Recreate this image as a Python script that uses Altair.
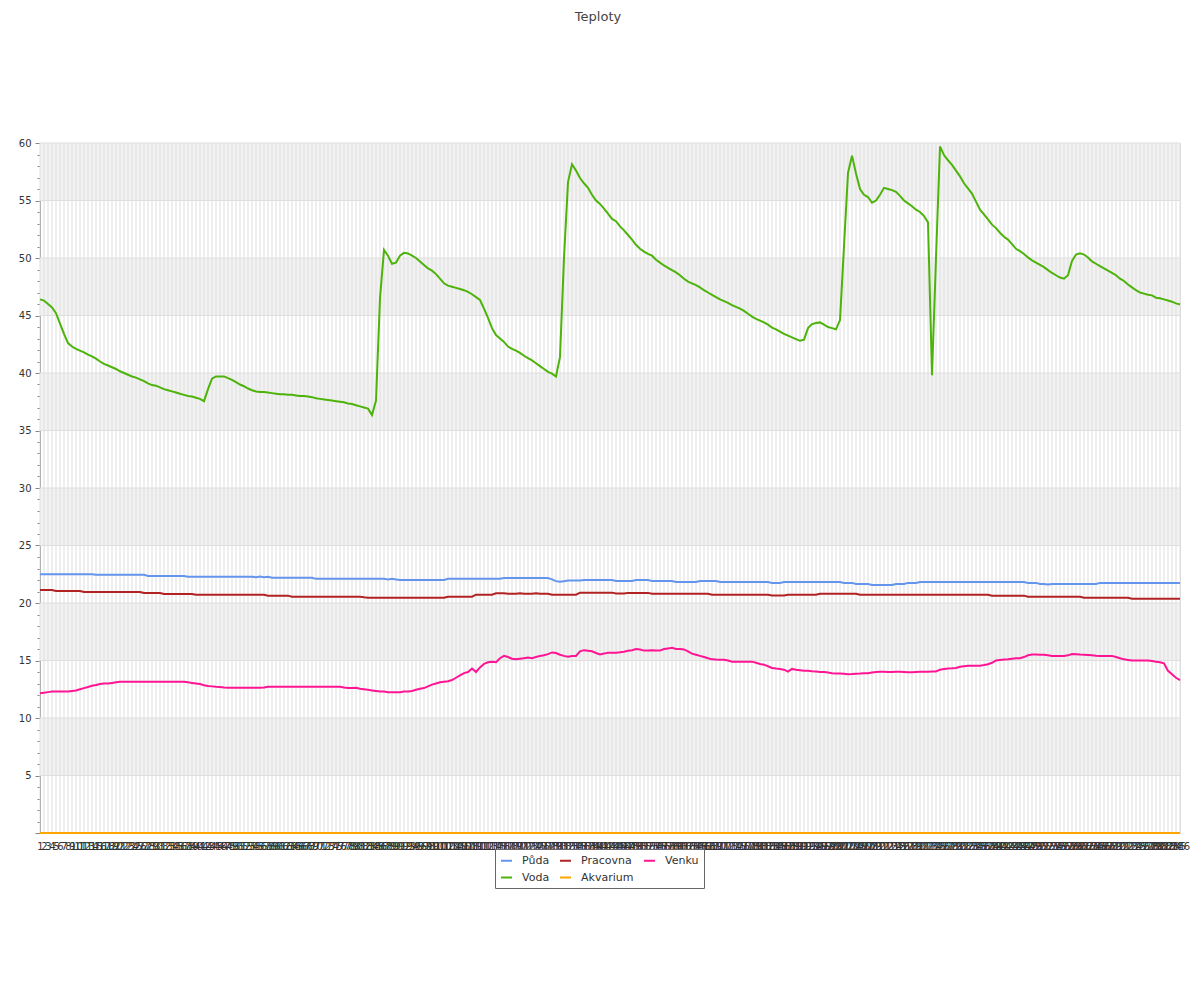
import altair as alt
import pandas as pd

# ---------------- data ----------------
CATEGORIES = list(range(1, 287))
SERIES = ["Půda", "Pracovna", "Venku", "Voda", "Akvarium"]
COLORS = ["#6495ED", "#B22222", "#FF1493", "#4DB30B", "#FFA500"]

PUDA = [
    22.5, 22.5, 22.5, 22.5, 22.5, 22.5, 22.5, 22.5, 22.5, 22.5,
    22.5, 22.5, 22.5, 22.5, 22.45, 22.45, 22.45, 22.45, 22.45, 22.45,
    22.45, 22.45, 22.45, 22.45, 22.45, 22.45, 22.45, 22.35, 22.35, 22.35,
    22.35, 22.35, 22.35, 22.35, 22.35, 22.35, 22.35, 22.28, 22.28, 22.28,
    22.28, 22.28, 22.28, 22.28, 22.28, 22.28, 22.28, 22.28, 22.28, 22.28,
    22.28, 22.28, 22.28, 22.28, 22.25, 22.3, 22.25, 22.28, 22.2, 22.2,
    22.2, 22.2, 22.2, 22.2, 22.2, 22.2, 22.2, 22.2, 22.2, 22.1,
    22.1, 22.1, 22.1, 22.1, 22.1, 22.1, 22.1, 22.1, 22.1, 22.1,
    22.1, 22.1, 22.1, 22.1, 22.1, 22.1, 22.1, 22.05, 22.1, 22.05,
    22.0, 22.0, 22.0, 22.0, 22.0, 22.0, 22.0, 22.0, 22.0, 22.0,
    22.0, 22.0, 22.1, 22.1, 22.1, 22.1, 22.1, 22.1, 22.1, 22.1,
    22.1, 22.1, 22.1, 22.1, 22.1, 22.1, 22.17, 22.17, 22.17, 22.17,
    22.17, 22.17, 22.17, 22.17, 22.17, 22.17, 22.17, 22.17, 22.05, 21.9,
    21.85, 21.9, 21.95, 21.95, 21.95, 21.95, 22.0, 22.0, 22.0, 22.0,
    22.0, 22.0, 22.0, 22.0, 21.92, 21.92, 21.92, 21.92, 21.92, 22.0,
    22.0, 22.0, 22.0, 21.92, 21.92, 21.92, 21.92, 21.92, 21.92, 21.83,
    21.83, 21.83, 21.83, 21.83, 21.83, 21.92, 21.92, 21.92, 21.92, 21.92,
    21.83, 21.83, 21.83, 21.83, 21.83, 21.83, 21.83, 21.83, 21.83, 21.83,
    21.83, 21.83, 21.83, 21.75, 21.75, 21.75, 21.83, 21.83, 21.83, 21.83,
    21.83, 21.83, 21.83, 21.83, 21.83, 21.83, 21.83, 21.83, 21.83, 21.83,
    21.83, 21.75, 21.75, 21.75, 21.66, 21.66, 21.66, 21.66, 21.57, 21.57,
    21.57, 21.57, 21.57, 21.57, 21.66, 21.66, 21.66, 21.75, 21.75, 21.75,
    21.83, 21.83, 21.83, 21.83, 21.83, 21.83, 21.83, 21.83, 21.83, 21.83,
    21.83, 21.83, 21.83, 21.83, 21.83, 21.83, 21.83, 21.83, 21.83, 21.83,
    21.83, 21.83, 21.83, 21.83, 21.83, 21.83, 21.83, 21.75, 21.75, 21.75,
    21.66, 21.66, 21.6, 21.66, 21.66, 21.66, 21.66, 21.66, 21.66, 21.66,
    21.66, 21.66, 21.66, 21.66, 21.66, 21.75, 21.75, 21.75, 21.75, 21.75,
    21.75, 21.75, 21.75, 21.75, 21.75, 21.75, 21.75, 21.75, 21.75, 21.75,
    21.75, 21.75, 21.75, 21.75, 21.75, 21.75,
]

PRACOVNA = [
    21.13, 21.13, 21.13, 21.13, 21.04, 21.04, 21.04, 21.04, 21.04, 21.04,
    21.04, 20.96, 20.96, 20.96, 20.96, 20.96, 20.96, 20.96, 20.96, 20.96,
    20.96, 20.96, 20.96, 20.96, 20.96, 20.96, 20.87, 20.87, 20.87, 20.87,
    20.87, 20.78, 20.78, 20.78, 20.78, 20.78, 20.78, 20.78, 20.78, 20.72,
    20.72, 20.72, 20.72, 20.72, 20.72, 20.72, 20.72, 20.72, 20.72, 20.72,
    20.72, 20.72, 20.72, 20.72, 20.72, 20.72, 20.72, 20.64, 20.64, 20.64,
    20.64, 20.64, 20.64, 20.55, 20.55, 20.55, 20.55, 20.55, 20.55, 20.55,
    20.55, 20.55, 20.55, 20.55, 20.55, 20.55, 20.55, 20.55, 20.55, 20.55,
    20.55, 20.5, 20.46, 20.46, 20.46, 20.46, 20.46, 20.46, 20.46, 20.46,
    20.46, 20.46, 20.46, 20.46, 20.46, 20.46, 20.46, 20.46, 20.46, 20.46,
    20.46, 20.46, 20.55, 20.55, 20.55, 20.55, 20.55, 20.55, 20.55, 20.72,
    20.72, 20.72, 20.72, 20.72, 20.85, 20.85, 20.85, 20.8, 20.8, 20.8,
    20.85, 20.8, 20.8, 20.8, 20.85, 20.8, 20.8, 20.8, 20.72, 20.72,
    20.72, 20.72, 20.72, 20.72, 20.72, 20.9, 20.9, 20.9, 20.9, 20.9,
    20.9, 20.9, 20.9, 20.9, 20.82, 20.82, 20.82, 20.88, 20.88, 20.88,
    20.88, 20.88, 20.88, 20.8, 20.8, 20.8, 20.8, 20.8, 20.8, 20.8,
    20.8, 20.8, 20.8, 20.8, 20.8, 20.8, 20.8, 20.8, 20.72, 20.72,
    20.72, 20.72, 20.72, 20.72, 20.72, 20.72, 20.72, 20.72, 20.72, 20.72,
    20.72, 20.72, 20.72, 20.66, 20.66, 20.66, 20.66, 20.72, 20.72, 20.72,
    20.72, 20.72, 20.72, 20.72, 20.72, 20.8, 20.8, 20.8, 20.8, 20.8,
    20.8, 20.8, 20.8, 20.8, 20.8, 20.72, 20.72, 20.72, 20.72, 20.72,
    20.72, 20.72, 20.72, 20.72, 20.72, 20.72, 20.72, 20.72, 20.72, 20.72,
    20.72, 20.72, 20.72, 20.72, 20.72, 20.72, 20.72, 20.72, 20.72, 20.72,
    20.72, 20.72, 20.72, 20.72, 20.72, 20.72, 20.72, 20.72, 20.64, 20.64,
    20.64, 20.64, 20.64, 20.64, 20.64, 20.64, 20.64, 20.55, 20.55, 20.55,
    20.55, 20.55, 20.55, 20.55, 20.55, 20.55, 20.55, 20.55, 20.55, 20.55,
    20.55, 20.46, 20.46, 20.46, 20.46, 20.46, 20.46, 20.46, 20.46, 20.46,
    20.46, 20.46, 20.46, 20.38, 20.38, 20.38, 20.38, 20.38, 20.38, 20.38,
    20.38, 20.38, 20.38, 20.38, 20.38, 20.38,
]

VENKU = [
    12.15, 12.2, 12.25, 12.3, 12.3, 12.3, 12.3, 12.3, 12.35, 12.4,
    12.5, 12.6, 12.7, 12.8, 12.87, 12.95, 13.0, 13.0, 13.05, 13.1,
    13.15, 13.15, 13.15, 13.15, 13.15, 13.15, 13.15, 13.15, 13.15, 13.15,
    13.15, 13.15, 13.15, 13.15, 13.15, 13.15, 13.15, 13.1, 13.05, 13.0,
    12.95, 12.85, 12.78, 12.75, 12.72, 12.7, 12.66, 12.64, 12.62, 12.62,
    12.64, 12.64, 12.64, 12.64, 12.64, 12.64, 12.66, 12.72, 12.72, 12.72,
    12.72, 12.72, 12.72, 12.72, 12.72, 12.72, 12.72, 12.72, 12.72, 12.72,
    12.72, 12.72, 12.72, 12.72, 12.72, 12.72, 12.65, 12.6, 12.6, 12.62,
    12.55, 12.5, 12.45, 12.4, 12.35, 12.3, 12.3, 12.25, 12.25, 12.25,
    12.25, 12.3, 12.3, 12.35, 12.45, 12.55, 12.6, 12.75, 12.9, 13.0,
    13.1, 13.15, 13.2, 13.3, 13.5, 13.7, 13.9, 14.0, 14.3, 14.0,
    14.4, 14.7, 14.85, 14.9, 14.85, 15.2, 15.4, 15.3, 15.15, 15.1,
    15.15, 15.2, 15.25, 15.2, 15.3, 15.4, 15.45, 15.55, 15.7, 15.65,
    15.5, 15.4, 15.33, 15.4, 15.4, 15.8, 15.9, 15.85, 15.8, 15.65,
    15.53, 15.6, 15.68, 15.68, 15.68, 15.72, 15.77, 15.85, 15.9, 16.0,
    15.95, 15.86, 15.88, 15.9, 15.86, 15.86, 16.0, 16.05, 16.1, 16.0,
    16.0, 15.96, 15.8, 15.6, 15.5, 15.4, 15.3, 15.2, 15.1, 15.08,
    15.07, 15.07, 15.0, 14.9, 14.9, 14.9, 14.9, 14.9, 14.9, 14.8,
    14.7, 14.64, 14.5, 14.35, 14.3, 14.27, 14.2, 14.03, 14.27, 14.2,
    14.15, 14.1, 14.1, 14.07, 14.05, 14.0, 14.0, 13.95, 13.9, 13.88,
    13.86, 13.84, 13.8, 13.82, 13.85, 13.87, 13.9, 13.9, 13.95, 14.0,
    14.03, 14.02, 14.0, 14.0, 14.03, 14.02, 14.0, 13.98, 13.97, 14.0,
    14.02, 14.03, 14.03, 14.04, 14.05, 14.2, 14.27, 14.3, 14.32, 14.35,
    14.45, 14.5, 14.55, 14.55, 14.55, 14.55, 14.6, 14.67, 14.8, 15.0,
    15.05, 15.08, 15.1, 15.15, 15.2, 15.2, 15.3, 15.45, 15.53, 15.52,
    15.5, 15.5, 15.45, 15.4, 15.4, 15.4, 15.4, 15.45, 15.57, 15.55,
    15.52, 15.5, 15.48, 15.45, 15.42, 15.4, 15.4, 15.4, 15.4, 15.3,
    15.2, 15.1, 15.05, 15.0, 15.0, 15.0, 15.0, 15.0, 14.95, 14.9,
    14.85, 14.75, 14.1, 13.8, 13.5, 13.3,
]

VODA = [
    46.4, 46.3, 46.0, 45.7, 45.2, 44.3, 43.4, 42.6, 42.3, 42.1,
    41.95, 41.8, 41.6, 41.45, 41.25, 41.0, 40.8, 40.65, 40.5, 40.35,
    40.15, 40.0, 39.85, 39.7, 39.6, 39.45, 39.3, 39.1, 38.95, 38.9,
    38.75, 38.6, 38.5, 38.4, 38.3, 38.2, 38.1, 38.0, 37.95, 37.85,
    37.75, 37.55, 38.6, 39.5, 39.7, 39.7, 39.7, 39.55, 39.4, 39.2,
    39.0, 38.85, 38.65, 38.5, 38.4, 38.35, 38.35, 38.3, 38.25, 38.2,
    38.15, 38.15, 38.1, 38.1, 38.05, 38.0, 38.0, 37.95, 37.9, 37.8,
    37.75, 37.7, 37.65, 37.6, 37.55, 37.5, 37.45, 37.35, 37.3, 37.2,
    37.1, 37.0, 36.9, 36.35, 37.6, 46.5, 50.7, 50.2, 49.5, 49.6,
    50.2, 50.45, 50.4, 50.2, 50.0, 49.7, 49.4, 49.1, 48.9, 48.6,
    48.2, 47.8, 47.6, 47.5, 47.4, 47.3, 47.2, 47.05, 46.85, 46.6,
    46.35, 45.6, 44.8, 43.9, 43.3, 43.0, 42.7, 42.3, 42.1, 41.95,
    41.75, 41.5, 41.3, 41.1, 40.85, 40.6, 40.35, 40.1, 39.95, 39.7,
    41.4, 50.0, 56.6, 58.15, 57.6, 56.95, 56.5, 56.1, 55.5, 55.0,
    54.7, 54.3, 53.85, 53.4, 53.2, 52.75, 52.4, 52.0, 51.6, 51.15,
    50.8, 50.55, 50.35, 50.2, 49.85, 49.6, 49.35, 49.15, 48.95, 48.75,
    48.5, 48.2, 47.95, 47.8, 47.65, 47.45, 47.2, 47.0, 46.8, 46.6,
    46.4, 46.25, 46.1, 45.9, 45.75, 45.6, 45.4, 45.15, 44.9, 44.7,
    44.55, 44.4, 44.2, 43.95, 43.8, 43.6, 43.4, 43.25, 43.1, 42.95,
    42.8, 42.9, 43.9, 44.25, 44.35, 44.4, 44.2, 44.0, 43.9, 43.8,
    44.6, 51.0, 57.4, 58.9, 57.35, 56.0, 55.5, 55.3, 54.8, 55.0,
    55.5, 56.1, 56.0, 55.9, 55.75, 55.4, 55.0, 54.75, 54.5, 54.2,
    54.0, 53.65, 53.1, 39.8, 50.0, 59.7, 58.95, 58.5, 58.1, 57.6,
    57.1, 56.5, 56.05, 55.6, 54.9, 54.2, 53.8, 53.35, 52.9, 52.6,
    52.2, 51.85, 51.6, 51.2, 50.8, 50.6, 50.35, 50.05, 49.8, 49.6,
    49.4, 49.2, 48.95, 48.7, 48.5, 48.3, 48.2, 48.5, 49.75, 50.3,
    50.4, 50.3, 50.05, 49.7, 49.5, 49.3, 49.1, 48.9, 48.7, 48.5,
    48.2, 48.0, 47.7, 47.45, 47.2, 47.0, 46.9, 46.8, 46.75, 46.55,
    46.5, 46.4, 46.3, 46.2, 46.05, 45.95,
]

AKVARIUM = [0.0] * 286

BAND_START = [5, 15, 25, 35, 45, 55]
BAND_END = [10, 20, 30, 40, 50, 60]
GRID_Y = [5, 10, 15, 20, 25, 30, 35, 40, 45, 50, 55, 60]
Y_TICKS = list(range(0, 61))

# ---------------- tables ----------------
series_values = {
    "Půda": PUDA,
    "Voda": VODA,
    "Pracovna": PRACOVNA,
    "Akvarium": AKVARIUM,
    "Venku": VENKU,
}
rows = []
for name, vals in series_values.items():
    for cat, v in zip(CATEGORIES, vals):
        rows.append({"idx": cat, "series": name, "value": v})
df = pd.DataFrame(rows)
cats_df = pd.DataFrame({"idx": CATEGORIES})
bands_df = pd.DataFrame({"start": BAND_START, "end": BAND_END})
grid_df = pd.DataFrame({"g": GRID_Y})

FONT = "DejaVu Sans"
Y_SCALE = alt.Scale(domain=[0, 60], nice=False, zero=True)
X_SCALE = alt.Scale(type="point", padding=0)

X_AXIS = alt.Axis(
    title=None, labelAngle=0, labelOverlap=False, ticks=False, domain=False,
    grid=False, labelPadding=8, labelFontSize=10, labelFont=FONT,
    labelColor="#333333",
)
Y_AXIS = alt.Axis(
    title=None, values=Y_TICKS, grid=False, labelOverlap=False,
    labelExpr="datum.value % 5 === 0 && datum.value > 0 ? datum.label : ''",
    tickSize={"condition": {"test": "datum.value % 5 === 0", "value": 5}, "value": 3},
    labelPadding=4, labelFontSize=10, labelFont=FONT, labelColor="#333333",
    domainColor="#888888", tickColor="#888888",
)

bands = alt.Chart(bands_df).mark_rect(color="#f2f2f2").encode(
    y=alt.Y("start:Q", scale=Y_SCALE, axis=Y_AXIS),
    y2="end:Q",
    x=alt.value(0),
    x2=alt.value("width"),
)

hgrid = alt.Chart(grid_df).mark_rule(color="#dedede", strokeWidth=1).encode(
    y=alt.Y("g:Q", scale=Y_SCALE, axis=Y_AXIS),
)

vgrid = alt.Chart(cats_df).mark_rule(color="#dedede", strokeWidth=1).encode(
    x=alt.X("idx:O", scale=X_SCALE, axis=X_AXIS),
)

lines = alt.Chart(df).mark_line(strokeWidth=2).encode(
    x=alt.X("idx:O", scale=X_SCALE, axis=X_AXIS),
    y=alt.Y("value:Q", scale=Y_SCALE, axis=Y_AXIS),
    color=alt.Color(
        "series:N",
        scale=alt.Scale(domain=SERIES, range=COLORS),
        legend=alt.Legend(
            title=None, orient="none", legendX=455, legendY=706,
            columns=3, direction="horizontal", symbolType="stroke",
            symbolStrokeWidth=2, symbolSize=121, labelFontSize=11,
            labelFont=FONT, labelColor="#333333", strokeColor="#666666",
            fillColor="#ffffff", padding=5, columnPadding=6, rowPadding=5,
            labelOffset=9,
        ),
    ),
    order=alt.Order("idx:Q"),
)

chart = alt.layer(bands, hgrid, vgrid, lines).properties(
    width=1140,
    height=690,
    title=alt.TitleParams(
        "Teploty", fontSize=13, fontWeight="normal", color="#444444",
        font=FONT, anchor="middle", dx=-12, offset=114,
    ),
    autosize=alt.AutoSizeParams(type="none"),
    padding={"left": 32, "top": 135, "right": 12, "bottom": 140},
).configure_view(strokeWidth=0).configure(font=FONT)

chart.save("out.html", embed_options={"renderer": "svg", "actions": False})
